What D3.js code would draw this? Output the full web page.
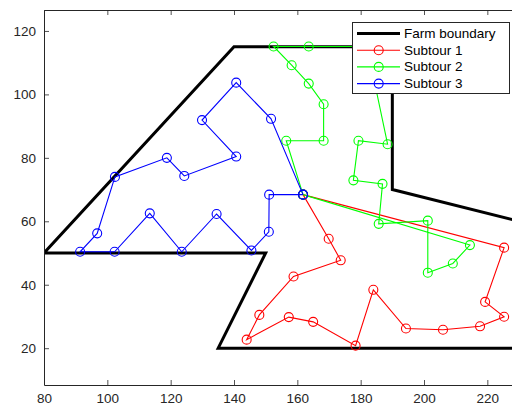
<!DOCTYPE html>
<html>
<head>
<meta charset="utf-8">
<script src="https://cdn.jsdelivr.net/npm/d3@7"></script>
<style>
  html, body { margin: 0; padding: 0; background: #fff; }
  svg { display: block; font-family: "Liberation Sans", Arial, sans-serif; }
</style>
</head>
<body>
<svg id="chart" width="512" height="410"></svg>
<script>
// ── Data ──────────────────────────────────────────────────────────────────────
const boundary = [
  [80, 50], [140, 115], [190, 115], [190, 70], [230, 60],
  [230, 20], [135, 20], [150, 50], [80, 50]
];

const subtour1 = [
  [161.8, 68.4], [169.9, 54.5], [173.7, 47.7], [158.8, 42.6], [148.0, 30.5],
  [144.0, 22.7], [157.3, 29.8], [165.0, 28.3], [178.4, 20.8], [184.0, 38.4],
  [194.3, 26.2], [206.0, 25.8], [217.7, 26.9], [225.3, 29.9], [219.3, 34.6],
  [225.3, 51.7], [161.8, 68.4]
];

const subtour2 = [
  [161.8, 68.4], [156.5, 85.4], [168.3, 85.4], [168.3, 96.9], [163.6, 103.4],
  [158.2, 109.2], [152.5, 115.1], [163.6, 115.1], [182.0, 115.1], [188.5, 84.3],
  [179.3, 85.4], [177.7, 72.9], [186.9, 71.8], [185.7, 59.2], [201.2, 60.2],
  [201.2, 43.8], [209.1, 46.7], [214.5, 52.5], [161.8, 68.4]
];

const subtour3 = [
  [161.8, 68.4], [151.7, 92.3], [140.7, 103.7], [129.9, 91.9], [140.7, 80.4],
  [124.3, 74.3], [118.8, 80.0], [102.4, 74.0], [96.8, 56.2], [91.4, 50.4],
  [102.3, 50.4], [113.4, 62.5], [123.5, 50.4], [134.5, 62.3], [145.5, 50.8],
  [151.0, 56.7], [151.1, 68.4], [161.8, 68.4]
];

const xTicks = [80, 100, 120, 140, 160, 180, 200, 220];
const yTicks = [20, 40, 60, 80, 100, 120];

const series = [
  { name: 'Subtour 1', color: '#ff0000', pts: subtour1 },
  { name: 'Subtour 2', color: '#00ff00', pts: subtour2 },
  { name: 'Subtour 3', color: '#0000ff', pts: subtour3 },
];

// ── Layout ────────────────────────────────────────────────────────────────────
const LEFT = 44, TOP = 10, RIGHT = 519, BOTTOM = 385;
const AXIS_COLOR = '#262626';
const TICK_LEN = 5;
const MARKER_R = 4.5;
const FONT_SIZE = 13.5;

const svg = d3.select('#chart');
const x = d3.scaleLinear().domain([80, 230]).range([LEFT, RIGHT]);
const y = d3.scaleLinear().domain([8.4, 126.6]).range([BOTTOM, TOP]);

svg.append('defs').append('clipPath').attr('id', 'plot-clip')
  .append('rect')
  .attr('x', LEFT).attr('y', TOP)
  .attr('width', RIGHT - LEFT).attr('height', BOTTOM - TOP);

const line = d3.line().x(d => x(d[0])).y(d => y(d[1]));

// ── Marks ─────────────────────────────────────────────────────────────────────
const plot = svg.append('g').attr('clip-path', 'url(#plot-clip)');

plot.append('path')
  .datum(boundary)
  .attr('d', line)
  .attr('fill', 'none')
  .attr('stroke', '#000')
  .attr('stroke-width', 3)
  .attr('stroke-linejoin', 'miter');

series.forEach(s => {
  const g = plot.append('g');
  g.append('path')
    .datum(s.pts)
    .attr('d', line)
    .attr('fill', 'none')
    .attr('stroke', s.color)
    .attr('stroke-width', 1.1);
  g.selectAll('circle')
    .data(s.pts)
    .join('circle')
    .attr('cx', d => x(d[0]))
    .attr('cy', d => y(d[1]))
    .attr('r', MARKER_R)
    .attr('fill', 'none')
    .attr('stroke', s.color)
    .attr('stroke-width', 1.1);
});

// ── Axes ──────────────────────────────────────────────────────────────────────
const axisBottom = d3.axisBottom(x).tickValues(xTicks).tickSizeInner(-TICK_LEN).tickSizeOuter(0).tickPadding(8);
const axisTop    = d3.axisTop(x).tickValues(xTicks).tickSizeInner(-TICK_LEN).tickSizeOuter(0).tickFormat('');
const axisLeft   = d3.axisLeft(y).tickValues(yTicks).tickSizeInner(-TICK_LEN).tickSizeOuter(0).tickPadding(8);

function styleAxis(g) {
  g.select('.domain').attr('stroke', AXIS_COLOR).attr('stroke-width', 1);
  g.selectAll('.tick line').attr('stroke', AXIS_COLOR).attr('stroke-width', 0.8);
  g.selectAll('.tick text')
    .attr('fill', AXIS_COLOR)
    .attr('font-size', FONT_SIZE)
    .attr('font-family', '"Liberation Sans", Arial, sans-serif');
}

svg.append('g').attr('transform', `translate(0,${BOTTOM})`).call(axisBottom).call(styleAxis);
svg.append('g').attr('transform', `translate(0,${TOP})`).call(axisTop).call(styleAxis);
svg.append('g').attr('transform', `translate(${LEFT},0)`).call(axisLeft).call(styleAxis);

// ── Legend ────────────────────────────────────────────────────────────────────
const legendItems = [{ name: 'Farm boundary', color: '#000', width: 3, marker: false }]
  .concat(series.map(s => ({ name: s.name, color: s.color, width: 1.1, marker: true })));

const LEG_X = 352.5, LEG_Y = 22.5, LEG_W = 157, LEG_H = 71, ROW_H = 16.7;
const legend = svg.append('g');
legend.append('rect')
  .attr('x', LEG_X).attr('y', LEG_Y)
  .attr('width', LEG_W).attr('height', LEG_H)
  .attr('fill', '#fff')
  .attr('stroke', AXIS_COLOR)
  .attr('stroke-width', 1);

legendItems.forEach((it, i) => {
  const cy = LEG_Y + 11 + i * ROW_H;
  const row = legend.append('g');
  row.append('line')
    .attr('x1', 357).attr('x2', 400)
    .attr('y1', cy).attr('y2', cy)
    .attr('stroke', it.color).attr('stroke-width', it.width);
  if (it.marker) {
    row.append('circle')
      .attr('cx', 378.7).attr('cy', cy).attr('r', MARKER_R)
      .attr('fill', 'none').attr('stroke', it.color).attr('stroke-width', 1.1);
  }
  row.append('text')
    .attr('x', 404).attr('y', cy)
    .attr('dominant-baseline', 'central')
    .attr('font-size', FONT_SIZE)
    .attr('fill', '#000')
    .text(it.name);
});
</script>
</body>
</html>
